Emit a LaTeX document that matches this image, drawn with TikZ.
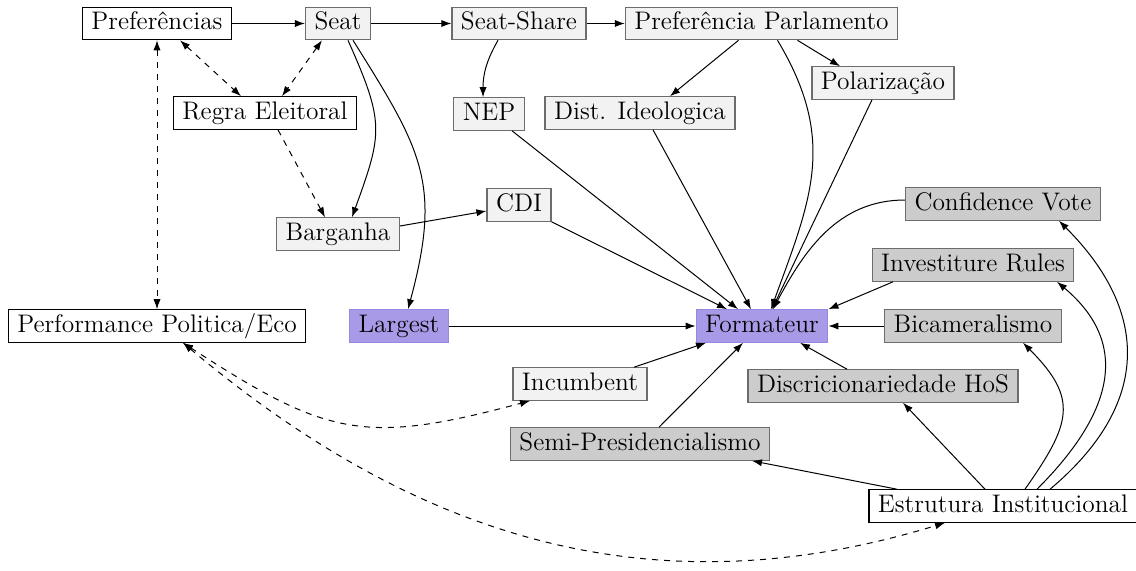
\documentclass[tikz,border=0pt]{standalone}
\usetikzlibrary{arrows.meta}
\definecolor{pfill}{RGB}{168,154,230}
\definecolor{pdraw}{RGB}{150,135,225}
\definecolor{lfill}{RGB}{242,242,242}
\definecolor{dfill}{RGB}{204,204,204}
\tikzset{
  base/.style={draw, rectangle, inner xsep=4.5pt, inner ysep=2.5pt, text height=8.7pt, text depth=2.5pt, line width=0.6pt},
  wbox/.style={base, draw=black, fill=white},
  lbox/.style={base, draw=gray!85!black, fill=lfill},
  dbox/.style={base, draw=gray!85!black, fill=dfill},
  pbox/.style={base, draw=pdraw, fill=pfill},
  arr/.style={-{Latex[length=5pt,width=3.6pt]}, line width=0.5pt},
  darr/.style={arr, dashed},
  bdarr/.style={{Latex[length=5pt,width=3.6pt]}-{Latex[length=5pt,width=3.6pt]}, dashed, line width=0.5pt}
}
\begin{document}
\begin{tikzpicture}[x=0.5pt,y=-0.5pt,font=\fontsize{12.7}{15}\selectfont]
\useasboundingbox (0,0) rectangle (1136,570);
% nodes
\node[wbox] (pref) at (157,23.5) {Preferências};
\node[lbox] (seat) at (338,23.5) {Seat};
\node[lbox] (ss) at (519,23.5) {Seat-Share};
\node[lbox] (pp) at (761.5,23.5) {Preferência Parlamento};
\node[lbox] (pol) at (883,83) {Polarização};
\node[lbox] (nep) at (489,114) {NEP};
\node[lbox] (dist) at (640,113) {Dist. Ideologica};
\node[wbox] (regra) at (265,113) {Regra Eleitoral};
\node[lbox] (barg) at (338,234) {Barganha};
\node[lbox] (cdi) at (519,205) {CDI};
\node[dbox] (conf) at (1003,204) {Confidence Vote};
\node[dbox] (inv) at (973,265) {Investiture Rules};
\node[pbox] (larg) at (399,326) {Largest};
\node[wbox] (perf) at (157,326) {Performance Politica/Eco};
\node[pbox] (form) at (762,326) {Formateur};
\node[dbox] (bic) at (973,326) {Bicameralismo};
\node[lbox] (inc) at (580,384) {Incumbent};
\node[dbox] (disc) at (883,386) {Discricionariedade HoS};
\node[dbox] (semi) at (640,444) {Semi-Presidencialismo};
\node[wbox] (estr) at (1003,506) {Estrutura Institucional};
% top chain
\draw[arr] (pref) -- (seat);
\draw[arr] (seat) -- (ss);
\draw[arr] (ss) -- (pp);
\draw[arr] ([xshift=-10.5pt]ss.south) to[out=-120,in=90] ([xshift=-3pt]nep.north);
\draw[arr] ([xshift=-11.5pt]pp.south) -- ([xshift=15pt]dist.north);
\draw[arr] ([xshift=18pt]pp.south) -- ([xshift=-21.5pt]pol.north);
\draw[arr] ([xshift=8pt]pp.south) .. controls +(60,100) and +(40,-110) .. ([xshift=4.5pt]form.north);
\draw[arr] ([xshift=-5.5pt]pol.south) -- ([xshift=5pt]form.north);
\draw[arr] ([xshift=6.5pt]dist.south) -- ([xshift=-5.5pt]form.north);
\draw[arr] ([xshift=11.5pt]nep.south) -- ([xshift=-12pt]form.north);
\draw[arr] (cdi.south east) -- ([xshift=-17.5pt]form.north);
\draw[arr] ([yshift=2pt]conf.west) to[out=180,in=62] ([xshift=5.5pt]form.north);
\draw[arr] ([xshift=-40pt]inv.south) -- (form.north east);
\draw[arr] (bic) -- (form);
\draw[arr] ([xshift=-18pt]disc.north) -- ([xshift=19pt]form.south);
\draw[arr] ([xshift=9.5pt]semi.north) -- ([xshift=-9.5pt]form.south);
\draw[arr] ([xshift=27pt]inc.north) -- ([xshift=-28pt]form.south);
\draw[arr] (larg) -- (form);
% seat curves
\draw[arr] ([xshift=7.5pt]seat.south) .. controls +(69,110) and +(34,-126) .. ([xshift=4.5pt]larg.north);
\draw[arr] ([xshift=5pt]seat.south) to[out=-66,in=70,looseness=1.3] ([xshift=7pt]barg.north);
\draw[arr] ([yshift=4pt]barg.east) -- ([yshift=-3pt]cdi.west);
% dashed
\draw[darr] ([xshift=6.5pt]regra.south) -- ([xshift=-6.5pt]barg.north);
\draw[bdarr] ([xshift=11.5pt]pref.south) -- ([xshift=-12pt]regra.north);
\draw[bdarr] ([xshift=-8pt]seat.south) -- ([xshift=8.5pt]regra.north);
\draw[bdarr] (pref.south) -- (perf.north);
\draw[bdarr] ([xshift=13pt]perf.south) to[out=-33,in=195,looseness=1.25] ([xshift=-25pt]inc.south);
\draw[bdarr] ([xshift=13pt]perf.south) to[out=-40,in=197] ([xshift=-29pt]estr.south);
% estrutura
\draw[arr] ([xshift=-53pt]estr.north) -- ([xshift=56pt]semi.south);
\draw[arr] ([xshift=-9pt]estr.north) -- ([xshift=10pt]disc.south);
\draw[arr] ([xshift=11pt]estr.north) to[out=55,in=-45,looseness=1.39] ([xshift=25pt]bic.south);
\draw[arr] ([xshift=17pt]estr.north) to[out=45,in=-40,looseness=1.24] ([xshift=42pt]inv.south);
\draw[arr] ([xshift=23.5pt]estr.north) to[out=40,in=-45,looseness=1.24] ([xshift=28pt]conf.south);
\end{tikzpicture}
\end{document}
